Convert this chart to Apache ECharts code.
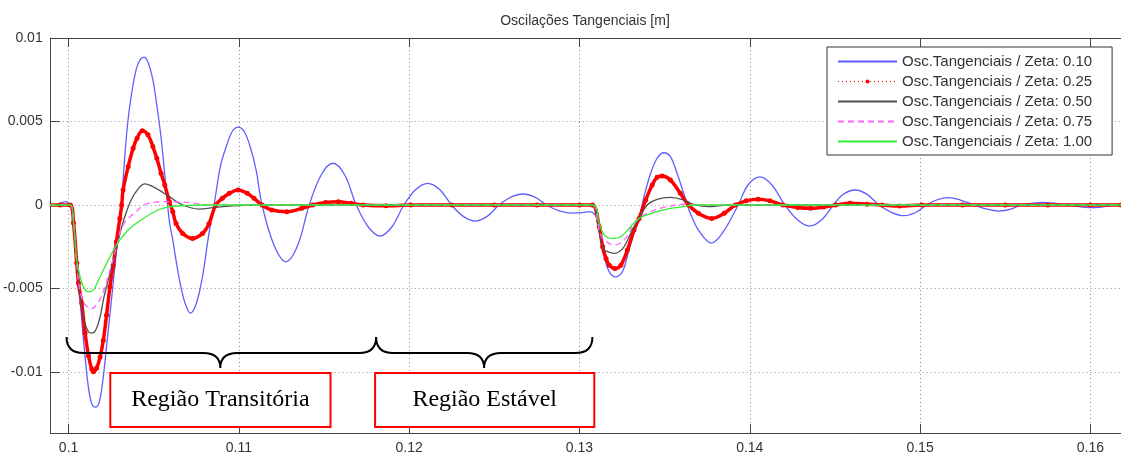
<!DOCTYPE html>
<html>
<head>
<meta charset="utf-8">
<title>Oscilações Tangenciais</title>
<script src="https://cdn.jsdelivr.net/npm/echarts@6/dist/echarts.min.js"></script>
<style>
html, body { margin: 0; padding: 0; background: #fff; }
#oscChart { width: 1121px; height: 456px; }
</style>
</head>
<body>
<div id="oscChart"></div>
<script>
var chartTitle = 'Oscilações Tangenciais [m]';
var seriesNames = [
    'Osc.Tangenciais / Zeta: 0.10',
    'Osc.Tangenciais / Zeta: 0.25',
    'Osc.Tangenciais / Zeta: 0.50',
    'Osc.Tangenciais / Zeta: 0.75',
    'Osc.Tangenciais / Zeta: 1.00'
];
var xTicks = [0.1, 0.11, 0.12, 0.13, 0.14, 0.15, 0.16];
var xTickLabels = ['0.1', '0.11', '0.12', '0.13', '0.14', '0.15', '0.16'];
var yTicks = [-0.01, -0.005, 0, 0.005, 0.01];
var yTickLabels = ['-0.01', '-0.005', '0', '0.005', '0.01'];

// [tempo, deslocamento]
var zeta010 = [
    [0.0989, 0], [0.0993, 0.00003], [0.0996, 0.00015], [0.09985, 0.0002], [0.1, 0.0001], [0.1001, 0],
    [0.10029, -0.00108], [0.10048, -0.00347], [0.1007, -0.006], [0.10093, -0.00868], [0.10117, -0.01096],
    [0.10137, -0.01192], [0.10157, -0.0121], [0.10178, -0.01186], [0.10198, -0.01078], [0.10233, -0.00749],
    [0.10262, -0.00467], [0.10285, -0.0024], [0.10306, -0.00042], [0.10323, 0.00192], [0.10344, 0.00461],
    [0.10367, 0.00647], [0.10396, 0.00808], [0.10419, 0.00868], [0.10443, 0.00886], [0.10466, 0.00856],
    [0.10495, 0.00749], [0.10518, 0.00599], [0.10542, 0.00413], [0.10565, 0.0018], [0.10591, -0.0009],
    [0.10612, -0.0021], [0.10647, -0.00425], [0.10682, -0.00581], [0.10716, -0.00647], [0.10751, -0.00587],
    [0.10786, -0.00431], [0.10821, -0.00192], [0.10856, 0.0001], [0.10891, 0.0023], [0.10926, 0.0035],
    [0.10961, 0.0044], [0.10996, 0.00466], [0.11031, 0.0044], [0.11066, 0.0035], [0.11101, 0.0021],
    [0.11136, 0], [0.11206, -0.0024], [0.11276, -0.0034], [0.11346, -0.0024], [0.11413, 0],
    [0.11483, 0.0018], [0.11552, 0.0025], [0.11622, 0.0018], [0.11689, 0], [0.11759, -0.0013],
    [0.11829, -0.00186], [0.11899, -0.0013], [0.11969, 0], [0.12039, 0.00093], [0.12109, 0.0013],
    [0.12179, 0.00093], [0.12249, 0], [0.12318, -0.00068], [0.12388, -0.00096], [0.12458, -0.00068],
    [0.12528, 0], [0.12598, 0.00047], [0.12668, 0.00066], [0.12738, 0.00047], [0.12808, 0],
    [0.12878, -0.00034], [0.12948, -0.00048], [0.13017, -0.00046], [0.13058, -0.0004], [0.13093, -0.0006],
    [0.13107, -0.0011], [0.13126, -0.0021], [0.13146, -0.0031], [0.13175, -0.004], [0.13213, -0.0043],
    [0.13252, -0.004], [0.13291, -0.0027], [0.1333, -0.0014], [0.1335, -0.0008], [0.13379, 0.0005],
    [0.13418, 0.0019], [0.13456, 0.0028], [0.13495, 0.00313], [0.13534, 0.0029], [0.13573, 0.0019],
    [0.13612, 0.0007], [0.13651, -0.0005], [0.13705, -0.0016], [0.13775, -0.00228], [0.13845, -0.0016],
    [0.13932, 0], [0.1399, 0.0012], [0.1406, 0.00168], [0.1413, 0.0012], [0.14206, 0],
    [0.14282, -0.0009], [0.14351, -0.00126], [0.14421, -0.0009], [0.14491, 0], [0.14549, 0.00064],
    [0.14619, 0.0009], [0.14689, 0.00064], [0.14759, 0], [0.14835, -0.00045], [0.14905, -0.00064],
    [0.14975, -0.00045], [0.15039, 0], [0.15097, 0.0003], [0.15167, 0.00044], [0.15237, 0.0003],
    [0.15318, 0], [0.15394, -0.00025], [0.15464, -0.00036], [0.15534, -0.00025], [0.15592, 0],
    [0.15726, 0.00016], [0.15866, 0], [0.16012, -0.00016], [0.16146, 0], [0.1618, 0.00004]
];
var zeta025 = [
    [0.0989, 0], [0.0995, 0], [0.1001, 0], [0.10029, -0.00108], [0.10048, -0.00347], [0.10058, -0.00467],
    [0.10077, -0.00587], [0.10097, -0.00766], [0.10117, -0.00904], [0.10136, -0.00982], [0.10146, -0.00998],
    [0.10165, -0.00976], [0.10185, -0.0091], [0.10204, -0.0081], [0.10223, -0.0066], [0.10243, -0.0049],
    [0.10262, -0.0036], [0.10281, -0.0022], [0.10301, -0.0008], [0.10312, 0], [0.1032, 0.0009],
    [0.1035, 0.0023], [0.10379, 0.0034], [0.10402, 0.004], [0.10433, 0.00445], [0.10466, 0.0042],
    [0.10495, 0.0035], [0.10518, 0.0028], [0.10543, 0.0019], [0.10565, 0.0012], [0.10592, 0.0002],
    [0.10612, -0.0004], [0.10631, -0.0011], [0.1067, -0.0017], [0.10728, -0.002], [0.10786, -0.0017],
    [0.10825, -0.0011], [0.10864, 0], [0.10903, 0.0004], [0.10944, 0.0007], [0.10996, 0.0009],
    [0.11049, 0.0007], [0.11089, 0.0004], [0.11136, 0], [0.11194, -0.0003], [0.11282, -0.0004],
    [0.11369, -0.0002], [0.11433, 0], [0.11509, 0.00015], [0.11584, 0.0002], [0.1166, 0.0001],
    [0.1173, 0], [0.11864, -0.00005], [0.1201, 0], [0.1225, 0], [0.125, 0], [0.1275, 0], [0.13, 0],
    [0.13076, 0], [0.13116, -0.0013], [0.13136, -0.0025], [0.13156, -0.0032], [0.13175, -0.0036],
    [0.13208, -0.0038], [0.13243, -0.0036], [0.13281, -0.0027], [0.1332, -0.0015], [0.1335, -0.0008],
    [0.13389, 0.0003], [0.13427, 0.0012], [0.13456, 0.00166], [0.13485, 0.00174], [0.13534, 0.0015],
    [0.13592, 0.0007], [0.13641, 0], [0.13699, -0.0005], [0.13777, -0.0008], [0.1385, -0.0005],
    [0.13915, 0], [0.13979, 0.00025], [0.14049, 0.00034], [0.14118, 0.00025], [0.14194, 0],
    [0.14282, -0.00015], [0.14357, -0.0002], [0.14433, -0.00012], [0.14503, 0], [0.1459, 0.0001],
    [0.14689, 0.00005], [0.14777, 0], [0.14881, -0.00006], [0.1501, 0], [0.1525, 0], [0.155, 0],
    [0.1575, 0], [0.16, 0], [0.1618, 0]
];
var zeta050 = [
    [0.0989, 0], [0.1001, 0], [0.10029, -0.00108], [0.10048, -0.00347], [0.10058, -0.00467],
    [0.10077, -0.0061], [0.10097, -0.0071], [0.10117, -0.0076], [0.10136, -0.00767], [0.10159, -0.0075],
    [0.10185, -0.0067], [0.10208, -0.0055], [0.10233, -0.0045], [0.10262, -0.0033], [0.10287, -0.0023],
    [0.1031, -0.0014], [0.1033, -0.0007], [0.10359, 0.0001], [0.10389, 0.0007], [0.10447, 0.00126],
    [0.10514, 0.001], [0.10592, 0.0005], [0.1067, 0], [0.10767, -0.00024], [0.10845, -0.00016],
    [0.10961, -0.00005], [0.11078, 0], [0.13076, 0], [0.13107, -0.0011], [0.13126, -0.0021],
    [0.13146, -0.0027], [0.13169, -0.0028], [0.13204, -0.0029], [0.13233, -0.0028], [0.13262, -0.0025],
    [0.1331, -0.0015], [0.1335, -0.0008], [0.13398, 0], [0.13456, 0.00034], [0.13534, 0.00046],
    [0.13612, 0.0003], [0.1367, 0.00004], [0.13757, -0.0001], [0.13874, 0], [0.1618, 0]
];
var zeta075 = [
    [0.0989, 0], [0.1001, 0], [0.10029, -0.00108], [0.10048, -0.00347], [0.10058, -0.0045],
    [0.10076, -0.0055], [0.10099, -0.006], [0.10136, -0.0062], [0.10163, -0.006], [0.10192, -0.0055],
    [0.10214, -0.0049], [0.10243, -0.0039], [0.10287, -0.0023], [0.10303, -0.0016], [0.10326, -0.0011],
    [0.1035, -0.0008], [0.10373, -0.0006], [0.10398, -0.0004], [0.10427, -0.0001], [0.10466, 0.0001],
    [0.10553, 0.0002], [0.1067, 0.00018], [0.10746, 0.0001], [0.10816, 0], [0.13076, 0],
    [0.13107, -0.0011], [0.13126, -0.0018], [0.13146, -0.0021], [0.13204, -0.0024], [0.13262, -0.0021],
    [0.1331, -0.0013], [0.1335, -0.0008], [0.13418, -0.0004], [0.13514, -0.0001], [0.13612, 0.00004],
    [0.13728, 0], [0.1618, 0]
];
var zeta100 = [
    [0.0989, 0], [0.1001, 0], [0.10029, -0.00108], [0.10048, -0.0033], [0.10068, -0.0043],
    [0.10087, -0.0049], [0.10117, -0.0052], [0.10146, -0.0051], [0.10175, -0.0045], [0.10204, -0.0039],
    [0.10233, -0.0033], [0.10287, -0.0023], [0.1035, -0.0015], [0.10425, -0.0009], [0.10524, -0.0003],
    [0.10583, -0.00012], [0.10699, -0.00003], [0.10786, 0], [0.13076, 0], [0.13116, -0.0011],
    [0.13146, -0.0018], [0.13194, -0.002], [0.13243, -0.0019], [0.13301, -0.0013], [0.1335, -0.0008],
    [0.13456, -0.0004], [0.13534, -0.0002], [0.13612, -0.0001], [0.1367, 0], [0.1618, 0]
];

// anotacoes (coordenadas de dados)
var regionNames = ['Região Transitória', 'Região Estável'];
var braceSpans = [[0.09988, 0.10891, 0.11806], [0.11806, 0.1244, 0.13076]];
var braceLevels = [-0.0079, -0.00886, -0.00976];
var regionBoxes = [[0.10245, 0.11538], [0.118, 0.13087]];
var regionBoxLevels = [-0.01006, -0.01329];

function tickLabel(ticks, labels) {
    return function (v) {
        for (var i = 0; i < ticks.length; i++) {
            if (Math.abs(ticks[i] - v) < 1e-9) return labels[i];
        }
        return '';
    };
}

function bracePath(a, t, b, yEnd, yBar, yTip) {
    var r = 17;
    return 'M' + a + ',' + yEnd +
        ' Q' + a + ',' + yBar + ' ' + (a + r) + ',' + yBar +
        ' L' + (t - r) + ',' + yBar +
        ' Q' + t + ',' + yBar + ' ' + t + ',' + yTip +
        ' Q' + t + ',' + yBar + ' ' + (t + r) + ',' + yBar +
        ' L' + (b - r) + ',' + yBar +
        ' Q' + b + ',' + yBar + ' ' + b + ',' + yEnd;
}

var gridLine = { show: true, lineStyle: { color: '#8a8a8a', type: [1, 3], width: 1 } };
var axisFont = { color: '#333', fontSize: 14, fontFamily: 'Liberation Sans' };

option = {
    animation: false,
    backgroundColor: '#fff',
    title: {
        text: chartTitle,
        left: 580,
        top: 9,
        textAlign: 'center',
        textStyle: { fontSize: 14, fontWeight: 'normal', color: '#333', fontFamily: 'Liberation Sans' }
    },
    legend: {
        orient: 'vertical',
        left: 827,
        top: 47,
        padding: [7, 20, 6, 10],
        itemWidth: 59,
        itemHeight: 5,
        itemGap: 5,
        itemTextGap: 5,
        backgroundColor: '#fff',
        borderColor: '#333',
        borderWidth: 1,
        borderRadius: 0,
        itemStyle: { opacity: 0 },
        textStyle: { fontSize: 15, lineHeight: 15, color: '#333', fontFamily: 'Liberation Sans' },
        data: [
            { name: seriesNames[0] },
            { name: seriesNames[1], lineStyle: { type: [1, 3], width: 1 }, itemStyle: { opacity: 1 } },
            { name: seriesNames[2] },
            { name: seriesNames[3] },
            { name: seriesNames[4] }
        ]
    },
    grid: { left: 47, right: -6, top: 38, bottom: 23, containLabel: false },
    xAxis: [
        {
            type: 'value',
            min: 0.09895,
            max: 0.1618,
            axisLine: { show: true, onZero: false, lineStyle: { color: '#444', width: 1 } },
            axisTick: { show: true, inside: true, length: 9, customValues: xTicks, lineStyle: { color: '#444' } },
            axisLabel: { customValues: xTicks, formatter: tickLabel(xTicks, xTickLabels), margin: 8, fontSize: axisFont.fontSize, color: axisFont.color, fontFamily: axisFont.fontFamily },
            splitLine: gridLine
        },
        {
            type: 'value',
            position: 'top',
            min: 0.09895,
            max: 0.1618,
            axisLine: { show: true, onZero: false, lineStyle: { color: '#444', width: 1 } },
            axisTick: { show: true, inside: true, length: 9, customValues: xTicks, lineStyle: { color: '#444' } },
            axisLabel: { show: false },
            splitLine: { show: false }
        }
    ],
    yAxis: {
        type: 'value',
        min: -0.01365,
        max: 0.01,
        axisLine: { show: true, onZero: false, lineStyle: { color: '#444', width: 1 } },
        axisTick: { show: true, inside: true, length: 9, customValues: yTicks, lineStyle: { color: '#444' } },
        axisLabel: { customValues: yTicks, formatter: tickLabel(yTicks, yTickLabels), margin: 8, fontSize: axisFont.fontSize, color: axisFont.color, fontFamily: axisFont.fontFamily },
        splitLine: gridLine
    },
    series: [
        {
            name: seriesNames[0], type: 'line', data: zeta010, smooth: 0.35, symbol: 'none',
            lineStyle: { color: '#5f5fff', width: 1.3 }, itemStyle: { color: '#5f5fff' }, z: 2
        },
        {
            name: seriesNames[1], type: 'line', data: zeta025, smooth: 0.35, symbol: 'circle', symbolSize: 5,
            showSymbol: true,
            lineStyle: { color: '#ff0000', width: 3.5 }, itemStyle: { color: '#ff0000' }, z: 3
        },
        {
            name: seriesNames[2], type: 'line', data: zeta050, smooth: 0.35, symbol: 'none',
            lineStyle: { color: '#505050', width: 1.3 }, itemStyle: { color: '#505050' }, z: 4
        },
        {
            name: seriesNames[3], type: 'line', data: zeta075, smooth: 0.35, symbol: 'none',
            lineStyle: { color: '#ff66ff', width: 1.3, type: [6, 4] }, itemStyle: { color: '#ff66ff' }, z: 4
        },
        {
            name: seriesNames[4], type: 'line', data: zeta100, smooth: 0.35, symbol: 'none',
            lineStyle: { color: '#33ee33', width: 1.3 }, itemStyle: { color: '#33ee33' }, z: 5
        },
        {
            name: 'chaves', type: 'custom', data: braceSpans, silent: true, z: 8,
            renderItem: function (params, api) {
                var a = api.coord([api.value(0), braceLevels[0]]);
                var t = api.coord([api.value(1), braceLevels[2]]);
                var b = api.coord([api.value(2), braceLevels[0]]);
                var yBar = api.coord([api.value(0), braceLevels[1]])[1];
                return {
                    type: 'path',
                    shape: { pathData: bracePath(a[0], t[0], b[0], a[1], yBar, t[1]) },
                    style: { fill: 'none', stroke: '#000', lineWidth: 2 }
                };
            }
        },
        {
            name: 'regioes', type: 'custom', data: regionBoxes, silent: true, z: 9,
            renderItem: function (params, api) {
                var p0 = api.coord([api.value(0), regionBoxLevels[0]]);
                var p1 = api.coord([api.value(1), regionBoxLevels[1]]);
                return {
                    type: 'group',
                    children: [
                        {
                            type: 'rect',
                            shape: { x: p0[0], y: p0[1], width: p1[0] - p0[0], height: p1[1] - p0[1] },
                            style: { fill: '#fff', stroke: '#ff0000', lineWidth: 2 }
                        },
                        {
                            type: 'text',
                            x: (p0[0] + p1[0]) / 2,
                            y: (p0[1] + p1[1]) / 2,
                            style: {
                                text: regionNames[params.dataIndex],
                                align: 'center', verticalAlign: 'middle',
                                fontSize: 24, fontFamily: 'Liberation Serif', fill: '#000'
                            }
                        }
                    ]
                };
            }
        }
    ]
};

var oscChart = echarts.init(document.getElementById('oscChart'));
oscChart.setOption(option);
</script>
</body>
</html>
